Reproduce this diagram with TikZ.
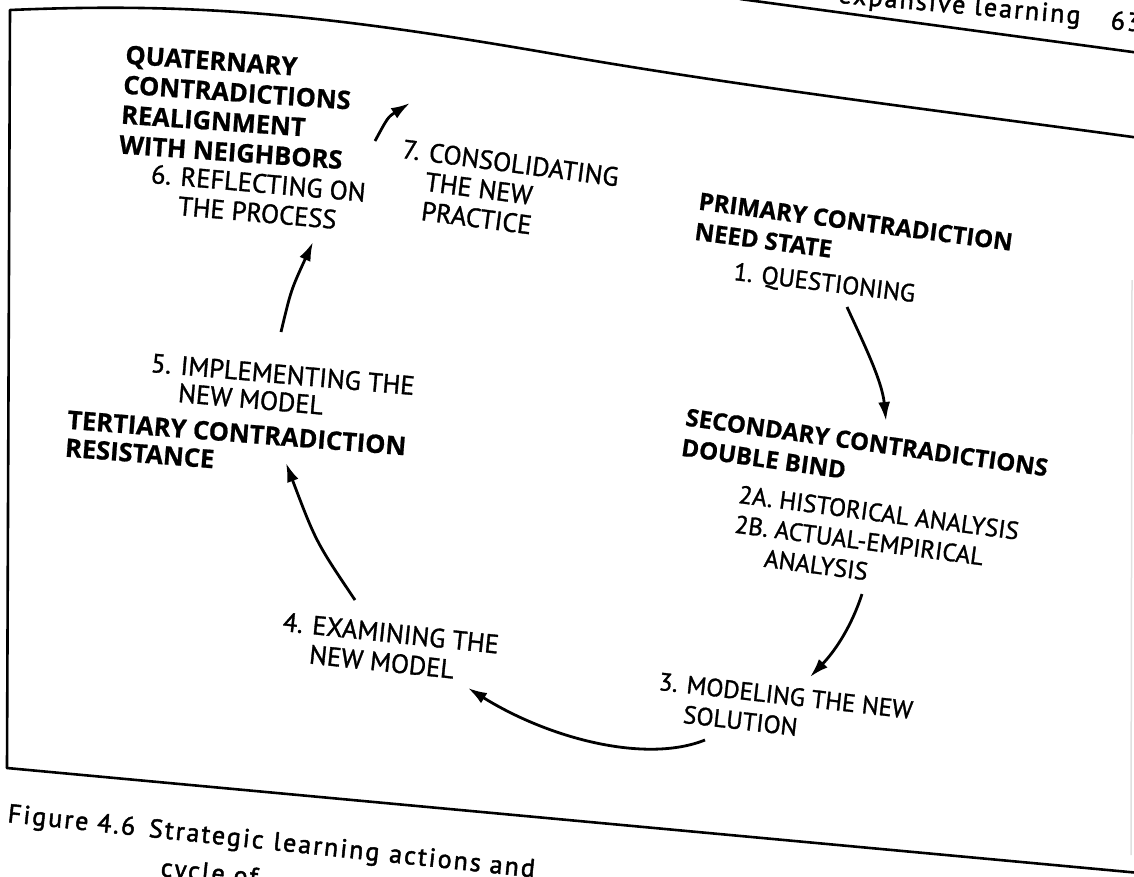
\documentclass[tikz,border=0pt]{standalone}
\usepackage{fontspec}
\setmainfont{PT Sans}[FakeBold=1.2]
\newfontfamily\labbold{Open Sans}[FakeBold=0.8]
\newfontfamily\capfont{PT Sans}[LetterSpace=8, FakeBold=1.8]
\usetikzlibrary{arrows.meta}
\begin{document}
\begin{tikzpicture}[x=1pt,y=-1pt,
  lab/.style={font=\fontsize{25}{30}\selectfont, align=left, inner sep=0pt, anchor=north west},
  labL/.style={font=\fontsize{26.5}{29.5}\selectfont, align=left, inner sep=0pt, anchor=north west},
  boldlab/.style={font=\labbold\bfseries\fontsize{24}{30.5}\selectfont, align=left, inner sep=0pt, anchor=north west},
  boldlabL/.style={font=\labbold\bfseries\fontsize{25.5}{30}\selectfont, align=left, inner sep=0pt, anchor=north west},
  captxt/.style={font=\capfont\fontsize{26}{30}\selectfont, inner sep=0pt},
  cyc/.style={line width=2.8pt, -{Latex[length=19pt,width=12pt]}},
  framel/.style={line width=2.6pt, line cap=round, line join=round}]
\useasboundingbox (0,0) rectangle (1134,876);
\fill[white] (0,0) rectangle (1134,876);

% page frame of the figure
\draw[framel] (7,768) -- (10,10) .. controls (200,2) and (330,15) .. (560,55)
      .. controls (750,88) and (950,112) .. (1140,138);
\draw[framel] (7,768) -- (1140,873);
\draw[framel] (740,-1) -- (1140,53);
\draw[black!12, line width=1.5pt] (1132,280) -- (1131,855);

% running head
\node[captxt, rotate=-5, anchor=base east] (head) at (1080,24) {expansive learning};
\node[captxt, rotate=-5, anchor=base west] (page) at (1110,29) {63};

% caption
\node[captxt, rotate=-6, anchor=base west] (cap1) at (7,822) {Figure 4.6\hspace{14pt}Strategic\hspace{10pt}learning\hspace{10pt}actions and};
\node[captxt, rotate=-6, anchor=base west] (cap2) at (160,876) {cycle of};

% labels
\node[boldlabL, rotate=-4] (quat) at (126,45) {QUATERNARY\\CONTRADICTIONS\\REALIGNMENT\\WITH NEIGHBORS};
\node[labL, rotate=-5] (s6) at (152,164) {6. REFLECTING ON\\\phantom{6. }THE PROCESS};
\node[labL, rotate=-7.5] (s7) at (404,139) {7. CONSOLIDATING\\\phantom{7. }THE NEW\\\phantom{7. }PRACTICE};
\node[boldlab, rotate=-7.5] (prim) at (700,192) {PRIMARY CONTRADICTION\\NEED STATE};
\node[lab, rotate=-7] (s1) at (735,262) {1. QUESTIONING};
\node[boldlab, rotate=-8] (sec) at (687,408) {SECONDARY CONTRADICTIONS\\DOUBLE BIND};
\node[lab, rotate=-7.5] (s2) at (740,485) {2A. HISTORICAL ANALYSIS\\2B. ACTUAL-EMPIRICAL\\\phantom{2B.}ANALYSIS};
\node[lab, rotate=-6.5] (s3) at (660,672) {3. MODELING THE NEW\\\phantom{3. }SOLUTION};
\node[labL, rotate=-6] (s4) at (284,612) {4. EXAMINING THE\\\phantom{4. }NEW MODEL};
\node[labL, rotate=-5, font=\fontsize{26.5}{27.5}\selectfont] (s5) at (152,353) {5. IMPLEMENTING THE\\\phantom{5. }NEW MODEL};
\node[boldlabL, rotate=-4.5, font=\labbold\bfseries\fontsize{25.5}{28}\selectfont] (tert) at (68,410) {TERTIARY CONTRADICTION\\RESISTANCE};

% arrow end points
\coordinate (a1s) at (847,307); \coordinate (a1e) at (886,421);
\coordinate (a2s) at (862,594); \coordinate (a2e) at (810,677);
\coordinate (a3s) at (705,740); \coordinate (a3e) at (468,688);
\coordinate (a4s) at (355,600); \coordinate (a4e) at (286,463);
\coordinate (a5s) at (281,332); \coordinate (a5e) at (313,242);
\coordinate (a6s) at (375,141); \coordinate (a6e) at (410,103);

\draw[cyc] (a1s) .. controls (862,340) and (882,380) .. (a1e);
\draw[cyc] (a2s) .. controls (852,625) and (836,650) .. (a2e);
\draw[cyc] (a3s) .. controls (645,764) and (548,738) .. (a3e);
\draw[cyc] (a4s) .. controls (316,542) .. (a4e);
\draw[cyc] (a5s) .. controls (291,290) .. (a5e);
\draw[cyc] (a6s) .. controls (388,117) .. (a6e);
\end{tikzpicture}
\end{document}
